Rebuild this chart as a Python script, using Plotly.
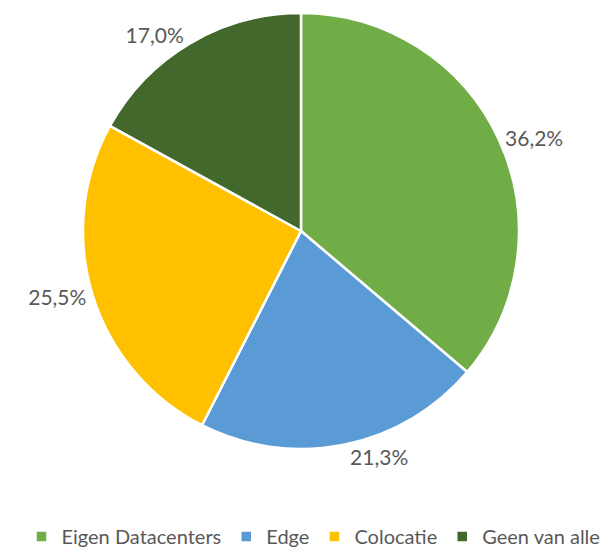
import plotly.graph_objects as go

categories = ["Eigen Datacenters", "Edge", "Colocatie", "Geen van alle"]
values = [36.2, 21.3, 25.5, 17.0]
text_labels = ["36,2%", "21,3%", "25,5%", "17,0%"]
colors = ["#70AD47", "#5B9BD5", "#FFC000", "#43682B"]

fig = go.Figure(go.Pie(
    labels=categories,
    values=values,
    text=text_labels,
    texttemplate="%{text}",
    textposition="outside",
    textfont=dict(size=21, color="#595959", family="Lato"),
    marker=dict(colors=colors, line=dict(color="white", width=2.5)),
    sort=False,
    direction="clockwise",
    rotation=0,
    hole=0,
    automargin=False,
    domain=dict(x=[0.1227, 0.8363], y=[0.1953, 0.9909]),
))

fig.update_layout(
    width=611, height=548,
    margin=dict(l=0, r=0, t=0, b=0, autoexpand=False),
    paper_bgcolor="white",
    plot_bgcolor="white",
    font=dict(family="Lato", color="#595959", size=21),
    showlegend=True,
    legend=dict(orientation="h", x=0.5, xanchor="center", y=0.0, yanchor="bottom",
                font=dict(size=20, color="#595959", family="Lato"),
                itemwidth=30, tracegroupgap=0),
)

fig.write_html("out.html")
